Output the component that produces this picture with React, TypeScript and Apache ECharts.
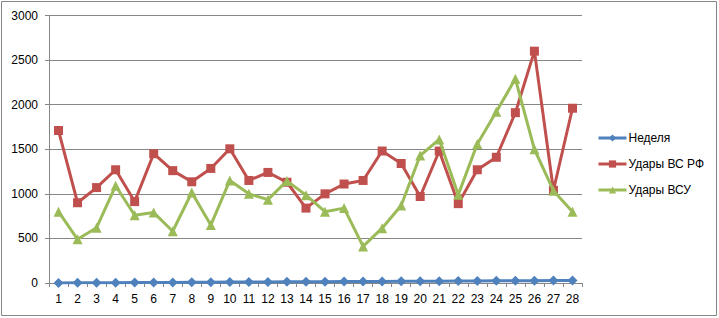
import React, { useEffect, useRef } from "react";
import * as echarts from "echarts";

const categories = ["1","2","3","4","5","6","7","8","9","10","11","12","13","14","15","16","17","18","19","20","21","22","23","24","25","26","27","28"];
const weekValues = [1,2,3,4,5,6,7,8,9,10,11,12,13,14,15,16,17,18,19,20,21,22,23,24,25,26,27,28];
const rfStrikes = [1710,900,1070,1270,913,1450,1260,1135,1285,1505,1150,1240,1130,840,1000,1110,1150,1480,1340,970,1480,890,1270,1410,1910,2600,1040,1960];
const afuStrikes = [800,490,620,1090,760,790,580,1015,650,1150,1000,935,1145,985,800,840,410,615,870,1430,1610,990,1560,1920,2290,1500,1035,800];
const seriesNames = ["Неделя", "Удары ВС РФ", "Удары ВСУ"];

export default function App() {
  const ref = useRef<HTMLDivElement>(null);
  useEffect(() => {
    if (!ref.current) return;
    const chart = echarts.init(ref.current, undefined, { renderer: "svg" });
    const font = "Liberation Sans";
    const gray = "#868686";
    chart.setOption({
      animation: false,
      backgroundColor: "#ffffff",
      textStyle: { fontFamily: font },
      graphic: [
        {
          type: "rect",
          shape: { x: 1.5, y: 1.5, width: 715, height: 314 },
          style: { fill: "none", stroke: gray, lineWidth: 1 },
          silent: true,
        },
      ],
      grid: { left: 49, right: 137, top: 15.5, bottom: 35, containLabel: false },
      legend: {
        orient: "vertical",
        left: 592,
        top: 127,
        padding: 5,
        itemWidth: 28,
        itemHeight: 9,
        itemGap: 14,
        lineStyle: { width: 3 },
        textStyle: { fontFamily: font, fontSize: 12, color: "#000", padding: [0, 0, 0, -3] },
        data: seriesNames,
      },
      xAxis: {
        type: "category",
        data: categories,
        boundaryGap: true,
        axisLine: { lineStyle: { color: gray, width: 1 } },
        axisTick: { show: true, length: 4, lineStyle: { color: gray } },
        axisLabel: { color: "#000", fontSize: 12, fontFamily: font, margin: 10, interval: 0 },
      },
      yAxis: {
        type: "value",
        min: 0,
        max: 3000,
        interval: 500,
        axisLine: { show: true, lineStyle: { color: gray, width: 1 } },
        axisTick: { show: true, length: 4, lineStyle: { color: gray } },
        splitLine: { lineStyle: { color: gray, width: 1 } },
        axisLabel: {
          color: "#000",
          fontSize: 12,
          fontFamily: font,
          margin: 11,
          formatter: (v: number) => String(v),
        },
      },
      series: [
        {
          name: seriesNames[0],
          type: "line",
          data: weekValues,
          symbol: "diamond",
          symbolSize: 10,
          lineStyle: { color: "#4F81BD", width: 3 },
          itemStyle: { color: "#4F81BD" },
          z: 2,
        },
        {
          name: seriesNames[1],
          type: "line",
          data: rfStrikes,
          symbol: "rect",
          symbolSize: 9,
          lineStyle: { color: "#C0504D", width: 3 },
          itemStyle: { color: "#C0504D" },
          z: 3,
        },
        {
          name: seriesNames[2],
          type: "line",
          data: afuStrikes,
          symbol: "triangle",
          symbolSize: 10,
          lineStyle: { color: "#9BBB59", width: 3 },
          itemStyle: { color: "#9BBB59" },
          z: 4,
        },
      ],
    });
    return () => chart.dispose();
  }, []);
  return (
    <div
      ref={ref}
      style={{ position: "fixed", left: 0, top: 0, width: 719, height: 318 }}
    />
  );
}
